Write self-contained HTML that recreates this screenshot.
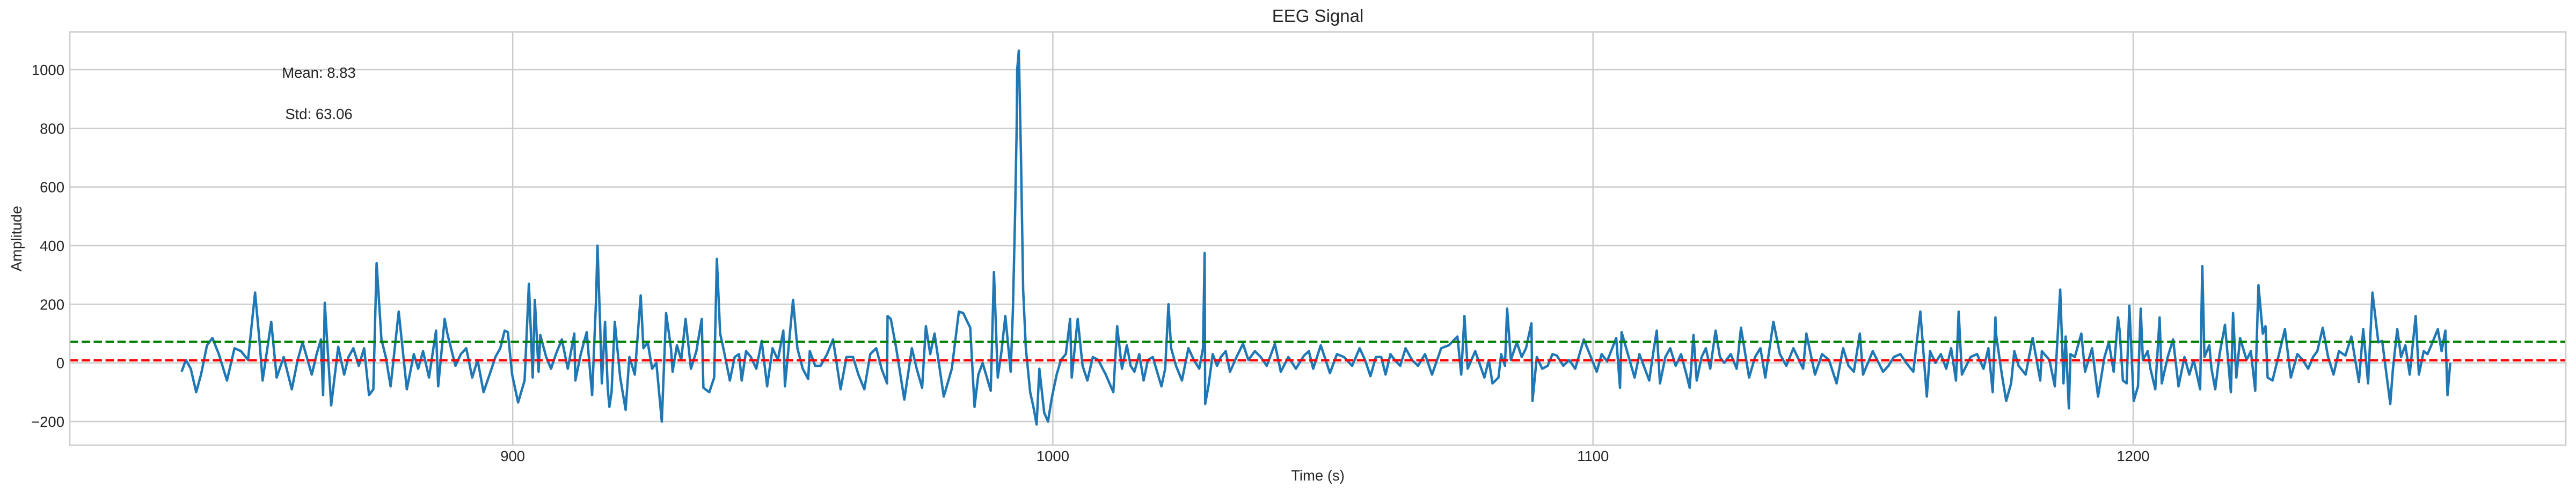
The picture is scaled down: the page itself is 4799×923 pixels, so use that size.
<!DOCTYPE html>
<html><head><meta charset="utf-8">
<style>
html,body{margin:0;padding:0;background:#fff;}
svg{display:block;font-family:"Liberation Sans",Arial,sans-serif;}
</style></head>
<body>
<svg id="chart" width="4799" height="923" viewBox="0 0 4799 923" xmlns="http://www.w3.org/2000/svg">
<rect x="130" y="59.5" width="4650" height="770.5" fill="#fff"/>
<g id="grid"></g>
<g id="series"></g>
<rect x="130" y="59.5" width="4650" height="770.5" fill="none" stroke="#cccccc" stroke-width="2.5"/>
<g id="ticks"></g>
<text x="2455" y="41" font-size="33" text-anchor="middle" fill="#262626">EEG Signal</text>
<text x="2455" y="896" font-size="27.5" text-anchor="middle" fill="#262626">Time (s)</text>
<text transform="translate(40,445) rotate(-90)" font-size="27.5" text-anchor="middle" fill="#262626">Amplitude</text>
<text x="594" y="145" font-size="27.5" text-anchor="middle" fill="#262626">Mean: 8.83</text>
<text x="594" y="222" font-size="27.5" text-anchor="middle" fill="#262626">Std: 63.06</text>
</svg>
<script>
const xTicks = [900, 1000, 1100, 1200];
const yTicks = [-200, 0, 200, 400, 600, 800, 1000];
const meanValue = 8.83;
const stdValue = 63.06;
const times = [838.7,839.5,840.4,841.4,842.3,843.4,844.4,845.6,847.1,848.5,849.7,851,852.3,853.1,853.7,854.5,855.3,856.3,857.6,859.1,860.2,861.1,862.8,863.7,864.5,864.9,865.2,866.4,867.7,868.8,869.6,870.5,871.5,872.5,873.4,874.2,874.8,875.7,876.5,877.4,878.9,880.4,881.7,882.5,883.4,884.5,885.8,886.2,887.4,887.9,889.4,890.4,891.4,892.5,893.5,894.6,895.9,896.8,897.7,898.5,899.1,899.9,901,902.2,903,903.7,904.1,904.8,905.1,906.2,907.1,908,909.1,910.2,911.4,911.6,912.6,913.7,914.7,915.4,915.7,916.2,916.5,917.1,917.6,917.9,918.3,918.9,919.9,920.9,921.6,922.6,923.7,924.2,925,925.8,926.6,927.6,928.4,929.3,929.6,930.4,931.2,932,933,934,935,935.3,936.4,937.3,937.8,938.4,939,940.2,941.1,941.9,942.4,943.2,944.1,945.1,946.1,947.1,948.1,949.1,950.1,950.4,951.9,952.7,953.7,954.7,955,956,957,958.2,959.3,960.7,961.8,963,964,965.1,966.2,967.3,968.3,969.3,969.4,970,971,972.5,973.9,974.8,975.8,976.5,977.3,978.1,979.8,981.3,982.6,983.4,984.7,985.5,986.2,987,988.5,989.1,989.8,990.5,991.2,992.2,992.6,993,993.3,993.4,993.7,994.1,994.5,995,995.8,996.4,997,997.5,998.4,999.1,999.8,1000.7,1001.5,1002.4,1003.2,1003.5,1004.6,1005.5,1006.4,1007.4,1008.4,1009.8,1011.2,1011.9,1012.8,1013.7,1014.4,1015.1,1016,1016.8,1017.6,1018.5,1019.3,1020.1,1020.8,1021.4,1021.9,1022.8,1023.9,1025.1,1026.1,1027.1,1027.8,1028.1,1028.2,1028.8,1029.6,1030.4,1031.1,1032,1032.8,1034,1035.2,1036.2,1037.4,1038.5,1039.6,1040.4,1041.1,1042.2,1043.6,1045,1046.5,1047.4,1048.2,1049.6,1050.5,1051.3,1052.6,1053.9,1055.4,1056.8,1057.8,1058.8,1059.8,1060.8,1061.6,1062.5,1063.3,1064.3,1065.3,1066.5,1067.6,1068.9,1070.2,1071.9,1073.3,1074.9,1075.6,1076.2,1076.8,1078.2,1079.9,1080.7,1081.4,1082.5,1083,1083.7,1084.1,1084.8,1085.9,1086.8,1087.6,1088.6,1088.8,1089.6,1090.6,1091.6,1092.5,1093.3,1094.5,1095.6,1096.7,1098.3,1099.6,1100.7,1101.6,1102.6,1104.3,1105,1105.3,1106.3,1107.7,1108.6,1109.4,1110.4,1111.2,1111.8,1112.4,1113.4,1114.3,1115.3,1116.3,1117.3,1117.9,1118.6,1119.2,1120.1,1120.9,1121.7,1122.7,1123.5,1124.3,1125.5,1126.6,1127.4,1128.9,1130,1131,1131.9,1133.4,1134.6,1135.8,1137.1,1138.9,1139.5,1141.1,1142.4,1143.7,1145.1,1146.3,1147.3,1148.3,1149.4,1150,1151.8,1153.7,1154.7,1155.7,1156.9,1158,1159.3,1160.6,1161.8,1162.4,1163.4,1164.4,1165.4,1166.3,1167.2,1167.7,1168.3,1169.9,1171.1,1172.3,1173.2,1174,1174.5,1174.6,1175.7,1176.5,1177.4,1178,1178.8,1180.1,1181.4,1182.8,1183.1,1184.5,1185.5,1186.5,1187.1,1187.5,1188.1,1188.4,1189.2,1190.4,1191.1,1192.4,1193.5,1194.7,1195.5,1196.4,1197.2,1197.5,1198.1,1198.8,1199.3,1200.1,1200.9,1201.4,1201.8,1202.7,1203.2,1204.1,1204.9,1205.3,1206.4,1207.4,1208.4,1209.5,1210.4,1211.2,1212.4,1212.8,1213.2,1214.1,1214.5,1215.2,1216,1217,1218.1,1218.5,1219.1,1219.8,1221,1221.8,1222.6,1223.2,1224,1224.5,1224.9,1225.8,1227,1228.1,1229.2,1230.4,1231.4,1232.4,1233.3,1234.1,1235.1,1236.1,1237.1,1238.1,1239.3,1240.4,1241.8,1242.6,1243.5,1244.3,1245.4,1246.1,1247.6,1248.1,1248.9,1249.6,1250.4,1251.2,1252.3,1252.9,1253.8,1254.5,1255.2,1256.4,1257.1,1257.8,1258.2,1258.7,1259.2];
const values = [-30,10,-20,-100,-40,60,85,30,-60,50,40,10,240,80,-60,40,140,-50,20,-90,10,70,-40,30,80,-110,205,-145,55,-40,20,50,-10,50,-110,-90,340,80,20,-80,175,-90,30,-20,40,-50,110,-80,150,100,-10,30,50,-50,10,-100,-30,20,50,110,105,-40,-135,-60,270,-50,215,-30,95,20,-20,30,80,-20,100,-60,30,105,-110,200,400,120,-70,140,-90,-150,-100,140,-50,-160,20,-40,230,50,70,-20,0,-200,170,50,-30,60,10,150,-20,40,150,-85,-100,-50,355,100,50,-60,20,30,-60,40,20,-20,75,-80,50,10,110,-80,215,50,-20,-55,40,-10,-10,30,80,-90,20,20,-40,-90,30,50,-20,-70,160,150,50,-125,50,-20,-85,125,30,100,-115,-20,175,170,120,-150,-40,0,-95,310,-50,40,160,-30,180,500,800,1000,1065,700,250,50,-100,-150,-210,-20,-170,-200,-120,-40,10,30,150,-50,150,-10,-60,20,10,-40,-100,125,-20,60,-10,-30,30,-60,10,20,-30,-80,-20,200,50,-10,-60,50,10,-20,50,375,-140,-80,30,-10,20,40,-30,20,65,10,40,20,-10,30,65,-30,20,-20,25,40,-20,60,10,-35,30,20,-10,50,10,-45,20,20,-40,30,10,-10,50,10,-10,30,-40,50,60,90,-40,160,-20,40,-50,10,-70,-50,30,-10,185,10,70,20,50,135,-130,20,-20,-10,30,25,-10,10,-20,80,20,-30,30,5,85,-85,105,40,-50,30,-10,-60,40,110,-70,20,50,-10,30,-40,-85,95,-60,20,50,-20,110,20,0,30,-20,120,-50,20,50,-50,140,30,-10,50,-20,100,-40,30,10,-70,50,-10,-30,100,-40,40,-30,-10,20,30,0,-30,175,-115,40,0,30,-20,50,-60,175,-40,20,30,-20,50,-100,155,100,-40,-130,-70,40,-10,-40,85,-60,40,10,-80,250,-70,90,-155,30,20,100,-30,50,-115,20,70,-30,155,110,-60,-70,195,-130,-80,185,10,40,-20,-90,155,-70,20,80,-80,20,-40,10,-90,330,20,60,-20,-90,30,130,-100,170,-50,85,10,40,-95,265,100,125,-50,-60,30,115,-50,30,10,-20,20,40,120,20,-40,40,25,90,-65,115,-70,240,70,75,-140,-20,115,20,60,-40,160,-40,40,30,60,115,40,110,-110,0];

const X0 = 130, X1 = 4780, Y0 = 59.5, Y1 = 830;
const xMin = 818, xMax = 1280.1, yMin = -280.5, yMax = 1129;
function sx(v){ return X0 + (v - xMin) / (xMax - xMin) * (X1 - X0); }
function sy(v){ return Y1 - (v - yMin) / (yMax - yMin) * (Y1 - Y0); }
const NS = "http://www.w3.org/2000/svg";
const grid = document.getElementById('grid');
const ticks = document.getElementById('ticks');
const series = document.getElementById('series');

yTicks.forEach(t => {
  const l = document.createElementNS(NS, 'line');
  
  
  l.setAttribute('x1', X0); l.setAttribute('x2', X1);
  l.setAttribute('y1', sy(t)); l.setAttribute('y2', sy(t));
  l.setAttribute('stroke', '#cccccc'); l.setAttribute('stroke-width', '2.5');
  grid.appendChild(l);
  const tx = document.createElementNS(NS, 'text');
  
  
  tx.setAttribute('x', 120); tx.setAttribute('y', sy(t) + 10);
  tx.setAttribute('font-size', '27.5'); tx.setAttribute('text-anchor', 'end'); tx.setAttribute('fill', '#262626');
  tx.textContent = t < 0 ? '\u2212' + Math.abs(t) : String(t);
  ticks.appendChild(tx);
});
xTicks.forEach(t => {
  const l = document.createElementNS(NS, 'line');
  
  
  l.setAttribute('x1', sx(t)); l.setAttribute('x2', sx(t));
  l.setAttribute('y1', Y0); l.setAttribute('y2', Y1);
  l.setAttribute('stroke', '#cccccc'); l.setAttribute('stroke-width', '2.5');
  grid.appendChild(l);
  const tx = document.createElementNS(NS, 'text');
  
  
  tx.setAttribute('x', sx(t)); tx.setAttribute('y', 860);
  tx.setAttribute('font-size', '27.5'); tx.setAttribute('text-anchor', 'middle'); tx.setAttribute('fill', '#262626');
  tx.textContent = String(t);
  ticks.appendChild(tx);
});

let d = '';
for (let i = 0; i < times.length; i++) {
  d += (i ? 'L' : 'M') + sx(times[i]).toFixed(1) + ',' + sy(values[i]).toFixed(1);
}
const path = document.createElementNS(NS, 'path');


path.setAttribute('d', d);
path.setAttribute('fill', 'none'); path.setAttribute('stroke', '#1f77b4');
path.setAttribute('stroke-width', '4.5'); path.setAttribute('stroke-linejoin', 'round');
series.appendChild(path);

const meanLine = document.createElementNS(NS, 'line');


meanLine.setAttribute('x1', X0); meanLine.setAttribute('x2', X1);
meanLine.setAttribute('y1', sy(meanValue)); meanLine.setAttribute('y2', sy(meanValue));
meanLine.setAttribute('stroke', '#ff0000'); meanLine.setAttribute('stroke-width', '4.2');
meanLine.setAttribute('stroke-dasharray', '15.5 6.7');
series.appendChild(meanLine);

const stdLine = document.createElementNS(NS, 'line');


stdLine.setAttribute('x1', X0); stdLine.setAttribute('x2', X1);
stdLine.setAttribute('y1', sy(meanValue + stdValue)); stdLine.setAttribute('y2', sy(meanValue + stdValue));
stdLine.setAttribute('stroke', '#008000'); stdLine.setAttribute('stroke-width', '4.2');
stdLine.setAttribute('stroke-dasharray', '15.5 6.7');
series.appendChild(stdLine);
</script>
</body></html>
